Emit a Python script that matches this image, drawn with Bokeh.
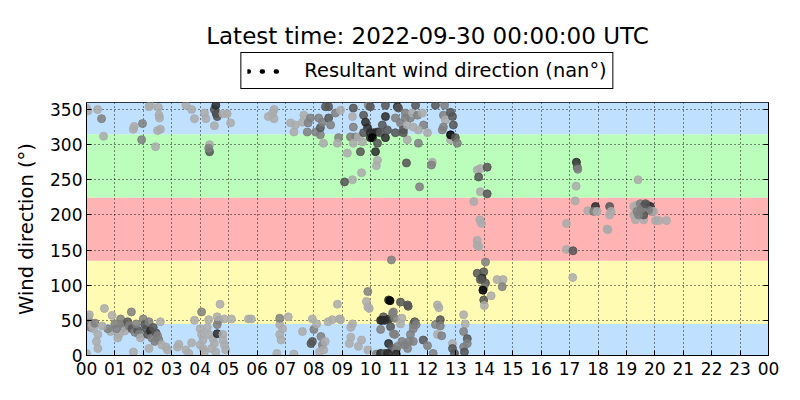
import numpy as np
from bokeh.plotting import figure
from bokeh.layouts import column
from bokeh.models import (Range1d, FixedTicker, Legend, LegendItem, LinearAxis, Label,
                          LinearColorMapper, ColumnDataSource)
from bokeh.transform import transform
from bokeh.embed import file_html
from bokeh.resources import INLINE

# ---------------- data ----------------
title_text = "Latest time: 2022-09-30 00:00:00 UTC"
legend_label = "Resultant wind direction (nan°)"
y_label = "Wind direction (°)"
hour_ticks = list(range(25))
hour_labels = ["00", "01", "02", "03", "04", "05", "06", "07", "08", "09", "10", "11",
               "12", "13", "14", "15", "16", "17", "18", "19", "20", "21", "22", "23", "00"]
dir_ticks = [0, 50, 100, 150, 200, 250, 300, 350]
sector_edges = [0, 45, 135, 225, 315, 360]

# resultant wind direction at the latest time (nan -> nothing drawn)
resultant_hour = [24.0]
resultant_dir = [float("nan")]

# observations: (hour, direction deg, shade level 1 light .. 5 black)
night_low = [(0.03,55,1),(0.05,45,2),(0.10,48,2),(0.15,40,2),(0.20,43,1),(0.25,38,1),(0.10,58,1),(0.30,46,2),
             (0.40,30,1),(0.35,20,1),(0.40,10,1),(0.00,3,1),(0.63,67,1),(0.90,57,1),(0.85,34,1),(0.75,38,2),(0.55,42,1),
             (1.20,52,2),(1.25,45,2),(1.30,40,2),(1.35,35,1),(1.15,30,1),(1.45,48,3),(1.58,62,2),(1.50,42,2),
             (1.60,38,3),(1.70,33,2),(1.80,36,3),(1.85,30,2),(1.75,45,2),(1.90,25,1),(2.00,52,2),(2.05,44,3),
             (2.10,38,3),(2.15,30,3),(2.20,48,2),(2.25,35,4),(2.30,25,2),(2.35,40,3),(2.40,20,2),(2.45,32,3),
             (2.50,28,2),(2.55,22,2),(2.60,48,1),(2.65,15,1),(1.00,45,2),(1.10,25,1),(1.05,38,2),(2.80,12,1),
             (2.85,8,1),(3.20,12,1),(3.25,16,1),(3.50,8,1),(3.70,18,1),(3.80,50,1),(2.20,10,1),(1.65,5,1)]
morning_low = [(4.05,62,2),(4.00,38,1),(4.05,30,1),(4.10,22,1),(4.00,15,1),(4.10,10,1),(4.15,5,1),(4.30,51,1),
               (4.30,30,1),(4.45,24,1),(4.50,17,1),(4.40,10,1),(4.55,5,1),(4.60,44,2),(4.65,50,2),(4.60,55,1),
               (4.70,73,1),(4.60,31,4),(4.80,22,1),(4.85,15,1),(4.90,8,1),(4.85,52,1),(5.10,52,1),(5.70,52,1),
               (5.80,52,1),(4.25,40,1),(3.60,3,1),(4.80,30,1)]
forenoon_low = [(6.80,44,1),(6.80,30,1),(6.70,3,1),(6.80,53,2),(7.10,55,1),(6.85,22,1),(7.30,2,1),(6.90,38,1),
                (7.60,34,1),(7.95,52,1),(8.00,37,2),(7.90,17,3),(7.95,20,3),(8.25,27,2),(8.30,15,2),(8.35,8,1),
                (8.40,20,1),(8.50,48,1),(8.65,51,1),(8.83,73,1),(8.90,52,1),(8.94,51,1),(8.10,45,1),(8.20,5,1)]
midday_low = [(9.36,45,1),(9.30,40,1),(9.30,26,1),(9.25,17,1),(9.57,13,1),(9.68,22,1),(9.90,8,1),(10.20,2,2),
              (9.90,91,2),(9.85,77,1),(9.90,69,1),(9.95,67,1),
              (10.63,79,4),(10.68,78,5),(11.05,76,3),(11.30,72,3),(11.32,70,3),(10.45,55,3),(10.40,50,4),
              (10.35,50,4),(10.50,50,4),(10.65,52,4),(10.77,60,2),(10.80,62,2),(10.85,53,2),(10.70,41,3),
              (10.80,31,2),(10.85,30,2),(10.63,17,4),(10.75,10,3),(10.90,8,2),(10.35,37,2),(10.35,3,4),
              (10.50,3,3),(10.60,3,4),(10.73,136,2),
              (11.05,45,1),(11.10,53,1),(11.10,20,2),(11.20,15,2),(11.30,10,2),(11.35,20,2),(11.40,30,2),
              (11.50,20,2),(11.50,44,2),(11.55,48,3),(11.50,38,2),(11.60,44,2),(10.95,13,2),(10.90,2,4),
              (11.85,22,3),(12.00,14,2),(12.28,44,2),(12.35,72,1),(12.40,68,1),(12.45,51,3),(12.45,42,2),
              (12.35,30,1),(12.50,28,2),(12.20,3,2),(12.88,17,1),(12.88,10,3),(12.95,3,3),
              (13.27,58,1),(13.33,45,1),(13.27,34,2),(13.40,24,3),(13.40,17,2),(13.27,12,2),(13.30,5,3)]
early_high = [(0.00,352,1),(0.05,348,1),(0.39,350,1),(0.53,337,2),(0.60,312,1),(1.65,322,1),(1.68,326,1),
              (1.97,330,2),(1.94,307,2),(2.20,354,1),(2.25,356,1),(2.53,353,1),(2.57,338,1),(2.50,320,1),
              (2.60,322,1),(2.43,297,1),(2.55,342,1),
              (3.70,350,1),(3.80,337,1),(4.15,345,1),(4.20,337,1),(4.57,344,4),(4.60,340,3),(4.50,350,3),
              (4.55,356,4),(4.80,344,1),(4.95,344,1),(5.07,331,1),(4.50,327,1),(4.33,300,1),(4.33,290,3),
              (4.30,295,2),(3.50,356,1),
              (6.40,340,1),(6.55,345,1),(6.60,350,1),(6.60,337,1)]
day_high = [(7.18,331,1),(7.35,328,1),(7.30,318,1),(7.60,332,1),(7.65,342,1),(7.80,331,2),(7.88,338,2),
            (7.77,318,2),(8.06,318,2),(8.23,314,2),(8.34,302,1),(8.23,324,3),(8.17,338,2),(8.30,332,2),
            (8.52,338,3),(8.59,328,2),(8.52,354,3),(8.41,354,3),(8.76,345,2),(8.87,310,2),(8.83,302,1),
            (8.94,349,1),
            (9.18,288,1),(9.36,250,1),(9.08,247,3),(9.64,290,3),(9.68,260,1),(9.39,352,3),(9.36,340,1),
            (9.39,325,2),(9.29,311,2),(9.47,311,2),(9.57,311,1),(9.71,304,1),(9.39,302,1),(9.75,342,3),
            (9.82,332,4),(9.89,324,4),(9.75,317,3),(9.99,317,4),(9.99,310,4),(10.10,317,4),(10.24,318,4),
            (10.06,310,5),(10.24,302,3),(10.34,317,3),(10.52,310,4),(10.52,340,4),(10.59,321,3),
            (10.41,328,3),(10.17,290,4),(10.24,278,1),(10.20,270,1),(9.92,356,2),(9.99,354,3),
            (10.94,354,4),(10.98,352,3),(10.87,338,2),(11.05,331,2),(11.15,321,3),(11.22,338,2),
            (11.22,345,2),(11.29,328,1),(11.40,338,2),(11.47,345,1),(11.50,325,1),(11.65,342,2),
            (11.82,345,1),(11.86,328,2),(11.68,321,1),(12.00,317,1),(11.68,302,2),(11.29,307,1),
            (11.15,317,3),(10.87,317,3),(11.26,274,3),(12.17,275,1),(12.14,271,2),(11.72,240,2),
            (12.56,342,2),(12.63,335,1),(12.56,325,2),(12.52,321,2),(12.81,346,3),(12.88,340,3),
            (12.81,307,1),(12.81,314,5),(12.98,310,3),(13.05,302,2),(12.91,328,3),(12.28,356,3),
            (10.52,356,3),(11.58,356,3),(12.60,356,2)]
afternoon_turn = [(13.75,264,1),(13.86,266,1),(14.10,268,3),(13.80,254,3),(13.86,233,1),(14.10,230,3),
                  (13.63,219,1),(13.84,193,1),(13.90,188,1),(13.75,164,1),(13.75,157,1),(13.80,155,1),
                  (14.04,133,2),(13.75,117,3),(13.98,119,3),(13.92,110,4),(13.86,108,3),(14.04,103,3),
                  (13.98,96,2),(13.95,93,5),(13.98,79,3),(14.00,71,1),(14.24,85,1),(14.45,108,1),
                  (14.66,108,1),(14.63,98,2)]
evening_south = [(17.24,275,4),(17.27,268,3),(17.29,265,2),(17.23,241,1),(17.20,220,1),(17.64,206,1),
                 (17.91,212,4),(17.85,205,2),(17.97,205,1),(16.89,188,1),(16.89,151,1),(17.12,149,3),
                 (17.11,111,1),(18.41,212,3),(18.46,205,1),(18.41,200,1),(18.32,180,1),(18.35,179,1),
                 (19.41,250,1),(19.26,212,1),(19.37,214,1),(19.49,216,2),(19.61,212,3),(19.73,214,3),
                 (19.84,212,4),(19.90,205,2),(19.96,205,1),(19.78,207,2),(19.49,205,2),(19.26,200,1),
                 (19.32,193,1),(19.61,193,1),(20.02,192,1),(20.14,192,1),(20.41,192,1),(19.61,200,3),
                 (19.37,205,2),(19.55,209,2),(19.67,216,3),(19.43,200,2)]

# ---------------- styles ----------------
FONT = "DejaVu Sans"
sector_colors = ["#bfe0ff", "#fffbb3", "#ffb3b3", "#bbfdbb", "#bfe0ff"]
grey_palette = ["#" + ("%02x" % int(v)) * 3 for v in np.linspace(170, 0, 5)]

obs = night_low + morning_low + forenoon_low + midday_low + early_high + day_high + afternoon_turn + evening_south
src = ColumnDataSource(dict(hour=[o[0] for o in obs], direction=[o[1] for o in obs],
                            shade=[o[2] for o in obs]))

LEFT, RIGHT = 86, 24

# ---------------- header (title + legend) ----------------
HEADER_H = 98
head = figure(frame_width=682, frame_height=HEADER_H, output_backend="svg", toolbar_location=None,
              x_range=Range1d(0, 24), y_range=Range1d(0, HEADER_H),
              x_axis_type=None, y_axis_type=None,
              min_border_left=LEFT, min_border_right=RIGHT, min_border_top=0, min_border_bottom=0)
head.outline_line_color = None
head.grid.visible = False
head.background_fill_color = "white"
head.border_fill_color = "white"

res = head.line(resultant_hour, resultant_dir, line_color="black", line_width=4.5,
                line_cap="round", line_dash="1 13")

head.add_layout(Label(x=12, y=HEADER_H - 35, text=title_text, text_align="center",
                      text_baseline="middle", text_font=FONT, text_font_size="23px",
                      text_color="black"))

legend = Legend(items=[LegendItem(label=legend_label, renderers=[res])],
                location="bottom_center", orientation="horizontal",
                border_line_color="black", border_line_width=1, border_line_alpha=1,
                background_fill_color="white", background_fill_alpha=1,
                padding=6, margin=9, glyph_width=34, glyph_height=18, label_standoff=23,
                label_text_font=FONT, label_text_font_size="19.4px", label_text_color="black")
head.add_layout(legend, "center")

# ---------------- main plot ----------------
p = figure(frame_width=682, frame_height=253, output_backend="svg", toolbar_location=None,
           x_range=Range1d(0, 24), y_range=Range1d(0, 360),
           min_border_left=LEFT, min_border_right=RIGHT, min_border_top=4, min_border_bottom=30)
p.background_fill_color = "white"
p.border_fill_color = "white"
p.outline_line_color = "black"
p.outline_line_alpha = 1.0
p.outline_line_width = 1

bands = p.quad(left=p.x_range.start, right=p.x_range.end,
               bottom=sector_edges[:-1], top=sector_edges[1:],
               fill_color=sector_colors, line_color=None)
bands.level = "image"

mapper = LinearColorMapper(palette=grey_palette, low=0.5, high=5.5)
p.scatter("hour", "direction", source=src, size=8,
          fill_color=transform("shade", mapper), line_color=transform("shade", mapper),
          fill_alpha=0.85, line_alpha=0.85)

p.xaxis.ticker = FixedTicker(ticks=hour_ticks)
p.xaxis.major_label_overrides = {t: l for t, l in zip(hour_ticks, hour_labels)}
p.yaxis.ticker = FixedTicker(ticks=dir_ticks)
p.yaxis.axis_label = y_label
for ax in (p.xaxis[0], p.yaxis[0]):
    ax.major_label_text_font = FONT
    ax.major_label_text_font_size = "17px"
    ax.major_label_text_color = "black"
    ax.major_tick_in = 5
    ax.major_tick_out = 0
    ax.minor_tick_line_color = None
    ax.axis_line_color = "black"
    ax.major_tick_line_color = "black"
p.xaxis.major_label_standoff = 6
p.yaxis.major_label_standoff = 4
p.yaxis.axis_label_text_font = FONT
p.yaxis.axis_label_text_font_size = "19.5px"
p.yaxis.axis_label_text_font_style = "normal"
p.yaxis.axis_label_text_color = "black"
p.yaxis.axis_label_standoff = 9

right_ax = LinearAxis(ticker=FixedTicker(ticks=dir_ticks),
                      major_label_overrides={t: "" for t in dir_ticks},
                      major_tick_in=5, major_tick_out=0, minor_tick_line_color=None,
                      major_label_standoff=0, axis_line_color="black")
p.add_layout(right_ax, "right")

for g in (p.xgrid[0], p.ygrid[0]):
    g.grid_line_color = "black"
    g.grid_line_dash = "1 3"
    g.grid_line_width = 1
    g.grid_line_alpha = 0.9
    g.level = "underlay"
p.xgrid.ticker = FixedTicker(ticks=hour_ticks)
p.ygrid.ticker = FixedTicker(ticks=dir_ticks)

layout = column(head, p, spacing=0)
open("out.html", "w").write(file_html(layout, INLINE))
